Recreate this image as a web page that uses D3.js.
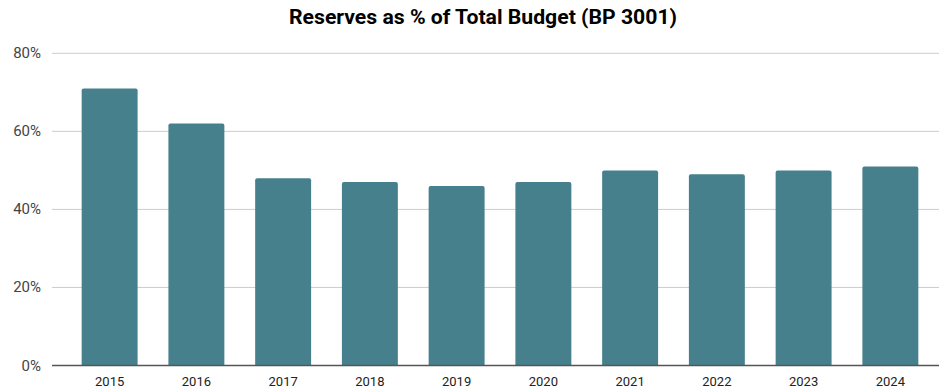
<!DOCTYPE html>
<html lang="en">
<head>
	<meta charset="UTF-8"/>
	<title>Reserves as % of Total Budget</title>
	<script src="https://d3js.org/d3.v7.min.js"></script>
	<style>
		body{ margin:0; background:#fff; }
		text{ font-family: Roboto, Arial, sans-serif; }
	</style>
</head>
<body>
	<script>
	var years = ["2015","2016","2017","2018","2019","2020","2021","2022","2023","2024"];
	var reserves = [71, 62, 48, 47, 46, 47, 50, 49, 50, 51];
	var yTicks = [0, 20, 40, 60, 80];

	var w = 939;
	var h = 389;
	var plotLeft = 52, plotRight = 948, plotTop = 53.3, plotBottom = 365.5;

	var svg = d3.select("body")
				.append("svg")
				.attr("width", w)
				.attr("height", h);

	var x = d3.scaleBand()
				.domain(years)
				.range([plotLeft, plotRight])
				.paddingInner(0.355)
				.paddingOuter(0.342);

	var y = d3.scaleLinear()
				.domain([0, 80])
				.range([plotBottom, plotTop]);

	svg.append("text")
		.attr("x", 483)
		.attr("y", 24)
		.attr("text-anchor", "middle")
		.attr("textLength", 388)
		.attr("lengthAdjust", "spacingAndGlyphs")
		.style("font-size", "20px")
		.style("font-weight", "bold")
		.style("fill", "#000")
		.text("Reserves as % of Total Budget (BP 3001)");

	// gridlines + labels
	svg.selectAll("line.grid")
		.data(yTicks.filter(function(d){ return d > 0; }))
		.enter()
		.append("line")
		.attr("class", "grid")
		.attr("x1", plotLeft)
		.attr("x2", w)
		.attr("y1", function(d){ return y(d); })
		.attr("y2", function(d){ return y(d); })
		.style("stroke", "#ccc")
		.style("stroke-width", 1);

	svg.selectAll("text.ylab")
		.data(yTicks)
		.enter()
		.append("text")
		.attr("class", "ylab")
		.attr("x", 41)
		.attr("y", function(d){ return y(d) + 5; })
		.attr("text-anchor", "end")
		.style("font-size", "15px")
		.style("fill", "#444")
		.text(function(d){ return d + "%"; });

	var bw = x.bandwidth();
	var r = 2;
	svg.selectAll("path.bar")
		.data(reserves)
		.enter()
		.append("path")
		.attr("class", "bar")
		.attr("d", function(d, i){
			var x0 = x(years[i]), x1 = x0 + bw, y0 = y(d), yb = y(0);
			return "M" + x0 + "," + yb + "V" + (y0 + r) +
				"Q" + x0 + "," + y0 + " " + (x0 + r) + "," + y0 +
				"H" + (x1 - r) + "Q" + x1 + "," + y0 + " " + x1 + "," + (y0 + r) +
				"V" + yb + "Z";
		})
		.style("fill", "#46808c");

	// baseline
	svg.append("line")
		.attr("x1", plotLeft)
		.attr("x2", w)
		.attr("y1", y(0))
		.attr("y2", y(0))
		.style("stroke", "#555")
		.style("stroke-width", 1.3);

	svg.selectAll("text.xlab")
		.data(years)
		.enter()
		.append("text")
		.attr("class", "xlab")
		.attr("x", function(d){ return x(d) + bw / 2; })
		.attr("y", 386)
		.attr("text-anchor", "middle")
		.style("font-size", "13px")
		.style("fill", "#222")
		.text(function(d){ return d; });
	</script>
</body>
</html>
